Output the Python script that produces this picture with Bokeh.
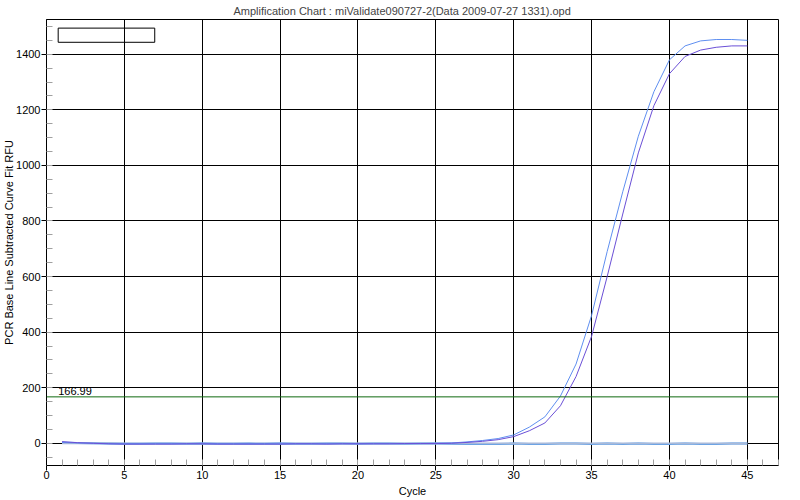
from bokeh.plotting import figure
from bokeh.models import Range1d, SingleIntervalTicker, Span, Label, BoxAnnotation
from bokeh.embed import file_html
from bokeh.resources import INLINE

# ---------------- data ----------------
cycles = list(range(1, 46))

sample_a = [3, 1, 0, -1, -1, -1, -1, -1, -1, 0,
            -1, -1, -1, -1, 0, -1, -1, -1, -1, -1,
            -1, -1, -1, -1, 0, 1, 5, 10, 17, 30,
            58, 95, 170, 285, 460, 690, 905, 1105, 1265, 1380,
            1430, 1448, 1453, 1453, 1450]

sample_b = [6, 2, 0, -2, -3, -3, -3, -3, -2, -2,
            -3, -3, -3, -3, -3, -2, -2, -3, -2, -2,
            -2, -2, -1, -1, -1, 0, 3, 7, 13, 24,
            45, 73, 135, 240, 385, 600, 825, 1045, 1215, 1330,
            1392, 1415, 1425, 1430, 1430]

ntc_1 = [2, 1, 0, -1, -2, -2, -1, -1, -2, -1,
         -2, -2, -1, -2, -1, -2, -2, -1, -1, -2,
         -1, -1, -2, -1, -1, -2, -3, -3, -3, -1,
         -3, -3, -1, -1, -3, -1, -3, -1, -3, -3,
         -1, -3, -3, -1, -1]

ntc_2 = [0, 0, 0, 0, -1, -1, -1, -1, -1, -1,
         -1, -1, -1, -1, -1, -1, -1, -1, -1, -1,
         -1, -1, -1, -1, -1, -1, -1, -1, -1, -1,
         -1, -1, -1, -1, -1, -1, -1, -1, -1, -1,
         -1, -1, -1, -1, -1]

threshold = 166.99
title_text = "Amplification Chart : miValidate090727-2(Data 2009-07-27 1331).opd"
x_label = "Cycle"
y_label = "PCR Base Line Subtracted Curve Fit RFU"

# ---------------- styling ----------------
FONT = "Liberation Sans"
FS = "11px"

p = figure(width=800, height=500, output_backend="svg", toolbar_location=None,
           x_range=Range1d(0, 47), y_range=Range1d(-80, 1525),
           title=title_text, x_axis_label=x_label, y_axis_label=y_label,
           min_border_left=0, min_border_right=22, min_border_top=0,
           min_border_bottom=35)

p.title.align = "left"
p.title.offset = 187
p.title.text_font = FONT
p.title.text_font_size = FS
p.title.text_font_style = "normal"
p.title.standoff = 5

p.xaxis.ticker = SingleIntervalTicker(interval=5, num_minor_ticks=5)
p.yaxis.ticker = SingleIntervalTicker(interval=200, num_minor_ticks=4)

for ax in (p.xaxis[0], p.yaxis[0]):
    ax.major_tick_out = 5
    ax.major_tick_in = 0
    ax.minor_tick_in = 6
    ax.minor_tick_out = 0
    ax.minor_tick_line_color = "#a0a0a0"
    ax.major_tick_line_color = "black"
    ax.axis_line_color = "black"
    ax.major_label_text_font = FONT
    ax.major_label_text_font_size = FS
    ax.major_label_text_color = "black"
    ax.major_label_standoff = 1
    ax.axis_label_text_font = FONT
    ax.axis_label_text_font_size = FS
    ax.axis_label_text_font_style = "normal"
    ax.axis_label_text_color = "black"

p.xaxis[0].major_label_standoff = 0
p.xaxis[0].axis_label_standoff = 3
p.yaxis[0].axis_label_standoff = -2

p.grid.grid_line_color = "black"
p.grid.grid_line_alpha = 1.0
p.grid.grid_line_width = 1
p.outline_line_color = "black"
p.outline_line_alpha = 1.0
p.outline_line_width = 1
p.background_fill_color = "white"
p.border_fill_color = "white"

# baseline / control traces
p.line(cycles, ntc_1, line_color="#2f8ff0", line_width=2)
p.line(cycles, ntc_2, line_color="#a9b9d9", line_width=2)
# amplification traces
p.line(cycles, sample_a, line_color="#5f8ff0", line_width=1)
p.line(cycles, sample_b, line_color="#6a4fd6", line_width=1)

# threshold
p.add_layout(Span(location=threshold, dimension="width", line_color="#0f6a0f", line_width=1))
p.add_layout(Label(x=0.75, y=threshold, text=f"{threshold:.2f}", y_offset=2,
                   text_font=FONT, text_font_size=FS, text_color="black",
                   text_baseline="bottom"))

# empty legend box
p.add_layout(BoxAnnotation(left=0.75, right=6.95, bottom=1443, top=1494,
                           fill_alpha=0, line_color="black", line_width=1,
                           line_alpha=1))

open("out.html", "w").write(file_html(p, INLINE))
